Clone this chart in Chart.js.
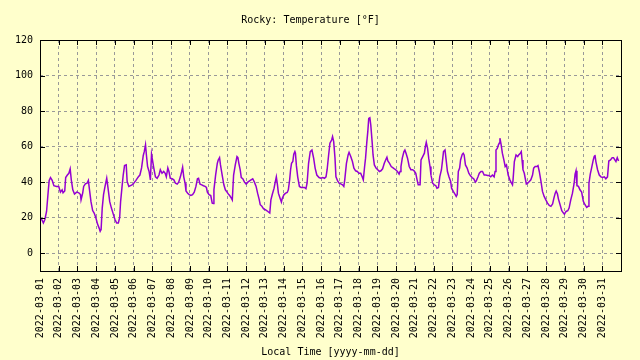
<!DOCTYPE html>
<html>
<head>
<meta charset="utf-8">
<script src="https://cdn.jsdelivr.net/npm/chart.js@4/dist/chart.umd.min.js"></script>
<style>
  body { margin: 0; background: #ffffcc; }
  #wrap { width: 640px; height: 360px; }
</style>
</head>
<body>
<div id="wrap"><canvas id="tempChart" width="640" height="360"></canvas></div>
<script>
// Hourly-ish readings. x = days since 2022-03-01 00:00
const dayPos = [
  0.00, 0.09, 0.18, 0.26, 0.35, 0.44, 0.49, 0.56, 0.65, 0.74, 0.88, 1.00, 1.09, 1.18, 1.23, 1.32,
  1.37, 1.46, 1.54, 1.61, 1.67, 1.75, 1.84, 1.96, 2.07, 2.16, 2.19, 2.28, 2.33, 2.42, 2.51, 2.58,
  2.65, 2.72, 2.81, 2.89, 2.98, 3.07, 3.16, 3.21, 3.26, 3.32, 3.39, 3.47, 3.56, 3.63, 3.72, 3.81,
  3.91, 4.00, 4.09, 4.18, 4.25, 4.30, 4.37, 4.44, 4.51, 4.60, 4.65, 4.74, 4.91, 5.00, 5.12, 5.18,
  5.25, 5.33, 5.42, 5.51, 5.56, 5.63, 5.68, 5.74, 5.82, 5.89, 5.95, 6.00, 6.07, 6.16, 6.25, 6.35,
  6.42, 6.51, 6.60, 6.68, 6.74, 6.82, 6.88, 6.95, 7.05, 7.14, 7.23, 7.32, 7.40, 7.49, 7.56, 7.61,
  7.67, 7.74, 7.79, 7.88, 7.96, 8.05, 8.14, 8.23, 8.32, 8.40, 8.46, 8.54, 8.63, 8.72, 8.81, 8.88,
  8.93, 9.02, 9.11, 9.19, 9.25, 9.28, 9.37, 9.46, 9.51, 9.58, 9.63, 9.72, 9.81, 9.89, 9.98, 10.07,
  10.12, 10.21, 10.26, 10.33, 10.42, 10.51, 10.56, 10.61, 10.68, 10.74, 10.82, 10.91, 11.00, 11.09, 11.18, 11.26,
  11.35, 11.44, 11.53, 11.61, 11.70, 11.75, 11.84, 11.93, 12.02, 12.11, 12.19, 12.26, 12.32, 12.40, 12.49, 12.54,
  12.61, 12.67, 12.72, 12.81, 12.88, 12.93, 13.02, 13.11, 13.19, 13.25, 13.32, 13.37, 13.42, 13.49, 13.54, 13.60,
  13.63, 13.68, 13.75, 13.84, 13.93, 14.02, 14.11, 14.19, 14.25, 14.33, 14.42, 14.51, 14.60, 14.68, 14.77, 14.89,
  14.98, 15.09, 15.18, 15.26, 15.32, 15.40, 15.47, 15.56, 15.61, 15.67, 15.74, 15.79, 15.88, 15.96, 16.05, 16.14,
  16.21, 16.26, 16.35, 16.44, 16.49, 16.58, 16.67, 16.75, 16.84, 16.93, 17.02, 17.11, 17.19, 17.25, 17.32, 17.37,
  17.44, 17.49, 17.54, 17.60, 17.65, 17.72, 17.77, 17.84, 17.93, 18.02, 18.11, 18.19, 18.28, 18.37, 18.46, 18.51,
  18.56, 18.65, 18.74, 18.82, 18.91, 18.98, 19.07, 19.16, 19.21, 19.26, 19.33, 19.42, 19.47, 19.53, 19.61, 19.70,
  19.79, 19.88, 19.96, 20.05, 20.12, 20.18, 20.28, 20.33, 20.42, 20.51, 20.56, 20.61, 20.68, 20.74, 20.81, 20.86,
  20.95, 21.04, 21.12, 21.18, 21.26, 21.33, 21.42, 21.47, 21.53, 21.61, 21.67, 21.74, 21.82, 21.91, 21.96, 22.05,
  22.14, 22.21, 22.26, 22.32, 22.39, 22.44, 22.53, 22.58, 22.63, 22.70, 22.79, 22.88, 22.96, 23.05, 23.14, 23.23,
  23.28, 23.37, 23.44, 23.53, 23.61, 23.70, 23.79, 23.88, 23.96, 24.05, 24.14, 24.23, 24.28, 24.33, 24.40, 24.46,
  24.51, 24.54, 24.60, 24.67, 24.75, 24.82, 24.89, 24.98, 25.07, 25.16, 25.21, 25.24, 25.31, 25.40, 25.49, 25.54,
  25.63, 25.68, 25.72, 25.77, 25.84, 25.89, 25.95, 26.02, 26.11, 26.19, 26.28, 26.34, 26.42, 26.51, 26.57, 26.64,
  26.73, 26.81, 26.90, 26.99, 27.08, 27.17, 27.26, 27.35, 27.42, 27.49, 27.54, 27.61, 27.66, 27.75, 27.84, 27.93,
  27.98, 28.07, 28.16, 28.23, 28.32, 28.41, 28.50, 28.55, 28.60, 28.65, 28.73, 28.81, 28.90, 28.99, 29.08, 29.17,
  29.24, 29.29, 29.36, 29.43, 29.52, 29.57, 29.61, 29.66, 29.75, 29.84, 29.93, 30.02, 30.11, 30.19, 30.28, 30.35,
  30.44, 30.53, 30.60, 30.67, 30.73, 30.80, 30.87
];

const tempF = [
  20, 19, 17, 19, 23.5, 35, 41, 42.6, 41, 38, 37.6, 37.6, 34.4, 35.7, 34, 35,
  42.6, 44, 45, 47.5, 41.3, 35.7, 33.3, 34.4, 34, 33, 30, 34, 37.6, 39, 39.4, 41,
  35, 29, 24, 22.6, 20, 16.4, 14, 12.3, 13.3, 25.4, 33, 37.6, 42.2, 36.6, 29, 25.4,
  22, 19, 17, 17, 20, 29, 36.6, 44, 49.3, 49.7, 40.4, 37.6, 38.5, 39.4, 41, 42,
  43, 44, 48, 55, 57, 61, 55, 48.8, 46, 41.3, 55.7, 52.5, 48, 43, 42.2, 44,
  47, 45, 46, 45, 43, 48, 46, 42.2, 41.9, 41.3, 39.4, 38.9, 40, 43, 46, 48.4,
  43, 39.4, 35, 33.8, 33, 32.5, 33, 34.4, 37.6, 41.9, 42.2, 38.9, 38.5, 38, 37.6, 37,
  34.4, 33, 32.5, 28.2, 28, 35.7, 44, 50.6, 52.5, 53.8, 49.7, 44, 38.5, 35.7, 34.4, 33,
  32.5, 31, 30, 44, 49.7, 54.4, 53.8, 50.6, 47, 42.6, 41.9, 40, 38.9, 40, 40.7, 41.3,
  41.9, 40, 37.6, 33.8, 30, 27.3, 26.4, 25, 24.5, 23.9, 23.2, 22.6, 30, 33.3, 36.6, 39.4,
  43, 38.5, 33.8, 31, 28.8, 31, 33, 33.8, 34.2, 35.7, 41.3, 47, 50.6, 51.6, 55.7, 57.2,
  56.3, 49.3, 43, 37.6, 37, 37, 37, 36.3, 39.4, 50.6, 57.2, 58.1, 53.5, 47.9, 44, 42.6,
  42.2, 42.6, 42.2, 43, 47, 55.3, 61.9, 63.7, 65.6, 62.8, 53.5, 43, 40.7, 39.4, 39, 38.5,
  37.6, 41.3, 50.6, 55.3, 56.8, 54.4, 51.6, 47.9, 46.4, 46, 45, 45, 43, 41.3, 48.8, 53.5,
  62.8, 68.4, 75.9, 76.3, 72.1, 62.8, 55.3, 49.7, 47.9, 47, 46, 46.4, 47.5, 50.6, 52.9, 54,
  51.9, 50.6, 48.8, 48.2, 47.5, 47, 46, 44.5, 46, 48.8, 53.5, 57.2, 58.1, 56.3, 53.5, 48.8,
  47, 47, 46.4, 45, 41.3, 38.5, 38.5, 52.5, 54.4, 56.3, 60, 62.4, 59, 53.5, 48.8, 44,
  39.4, 38.5, 38, 36.6, 37, 43, 47, 51.6, 57.2, 58.1, 52.5, 46, 43, 40.4, 36.6, 34.8,
  33.3, 32, 33, 46, 47.9, 52.5, 55.7, 56.3, 55.3, 49.7, 47.9, 45, 43.7, 42.6, 41.9, 40,
  40.7, 43, 45, 46, 46, 44, 44, 43.7, 43.7, 43, 44, 43, 46, 58.1, 59, 61,
  62, 64.7, 61.4, 56.3, 52.5, 48.8, 49.7, 44, 41.3, 39.4, 38.5, 41.3, 51.6, 55.3, 54.4, 55.3,
  56.3, 57.2, 52.5, 47, 45, 42.2, 38.9, 39.4, 40.4, 41.3, 44, 47.9, 48.8, 48.8, 49.3, 46,
  40.4, 34.8, 32, 30, 28.2, 26.9, 26.4, 27.7, 31, 33.8, 35, 33.3, 30.6, 27.3, 23.9, 22.6,
  22, 23.5, 23.9, 25.4, 30, 33.8, 39.4, 44.5, 46.4, 38, 37.6, 35.7, 34.4, 29.2, 27.3, 25.8,
  26.4, 39.4, 44.5, 47.9, 52.5, 54.4, 55.3, 51.6, 47, 44, 43, 42.6, 43, 41.9, 43, 51.9,
  52.5, 53.8, 53.8, 52.5, 51.6, 53.8, 51.9
];

// Tick positions and labels
const xTicks = [0, 1, 2, 3, 4, 5, 6, 7, 8, 9, 10, 11, 12, 13, 14, 15, 16, 17, 18, 19, 20,
  21, 22, 23, 24, 25, 26, 27, 28, 29, 30];
const dateLabels = xTicks.map(d => '2022-03-' + String(d + 1).padStart(2, '0'));
const yTicks = [0, 20, 40, 60, 80, 100, 120];

const monoFont = { family: 'DejaVu Sans Mono', size: 10, weight: 'normal' };

// gnuplot-style frame with inward tic marks on every side
const framePlugin = {
  id: 'frame',
  afterDraw(chart) {
    const { ctx, chartArea: a, scales } = chart;
    const tic = 5;
    ctx.save();
    ctx.strokeStyle = '#000';
    ctx.lineWidth = 1;
    ctx.setLineDash([]);
    ctx.beginPath();
    scales.x.ticks.forEach(t => {
      const px = Math.round(scales.x.getPixelForValue(t.value)) + 0.5;
      ctx.moveTo(px, a.bottom); ctx.lineTo(px, a.bottom - tic);
      ctx.moveTo(px, a.top); ctx.lineTo(px, a.top + tic);
    });
    scales.y.ticks.forEach(t => {
      const py = Math.round(scales.y.getPixelForValue(t.value)) + 0.5;
      ctx.moveTo(a.left, py); ctx.lineTo(a.left + tic, py);
      ctx.moveTo(a.right, py); ctx.lineTo(a.right - tic, py);
    });
    ctx.stroke();
    ctx.strokeRect(Math.round(a.left) + 0.5, Math.round(a.top) + 0.5,
      Math.round(a.right - a.left), Math.round(a.bottom - a.top));
    ctx.restore();
  }
};

const ctx = document.getElementById('tempChart').getContext('2d');
const tempChart = new Chart(ctx, {
  type: 'line',
  data: {
    datasets: [{
      data: dayPos.map((d, i) => ({ x: d, y: tempF[i] })),
      borderColor: '#9400d3',
      borderWidth: 1.5,
      pointRadius: 0,
      tension: 0,
      fill: false
    }]
  },
  options: {
    responsive: false,
    animation: false,
    layout: { padding: { left: 0, right: 19, top: 0, bottom: 0 } },
    plugins: {
      legend: { display: false },
      tooltip: { enabled: false },
      title: {
        display: true,
        text: 'Rocky: Temperature [°F]',
        color: '#000',
        font: monoFont,
        padding: { top: 14, bottom: 14 }
      }
    },
    scales: {
      x: {
        type: 'linear',
        min: 0,
        max: 31,
        afterBuildTicks: s => { s.ticks = xTicks.map(v => ({ value: v })); },
        afterFit: s => { s.height = 89; },
        ticks: {
          autoSkip: false,
          maxRotation: 90,
          minRotation: 90,
          padding: 7,
          color: '#000',
          font: monoFont,
          callback: v => dateLabels[v] || ''
        },
        grid: { color: '#999999', drawTicks: false, lineWidth: 1 },
        border: { display: false, dash: [3, 3] },
        title: {
          display: true,
          text: 'Local Time [yyyy-mm-dd]',
          color: '#000',
          font: monoFont,
          padding: { top: 0, bottom: 2 }
        }
      },
      y: {
        min: -10,
        max: 120,
        afterBuildTicks: s => { s.ticks = yTicks.map(v => ({ value: v })); },
        afterFit: s => { s.width = 40; },
        ticks: { padding: 7, color: '#000', font: monoFont },
        grid: { color: '#999999', drawTicks: false, lineWidth: 1 },
        border: { display: false, dash: [3, 3] }
      }
    }
  },
  plugins: [framePlugin]
});
</script>
</body>
</html>
